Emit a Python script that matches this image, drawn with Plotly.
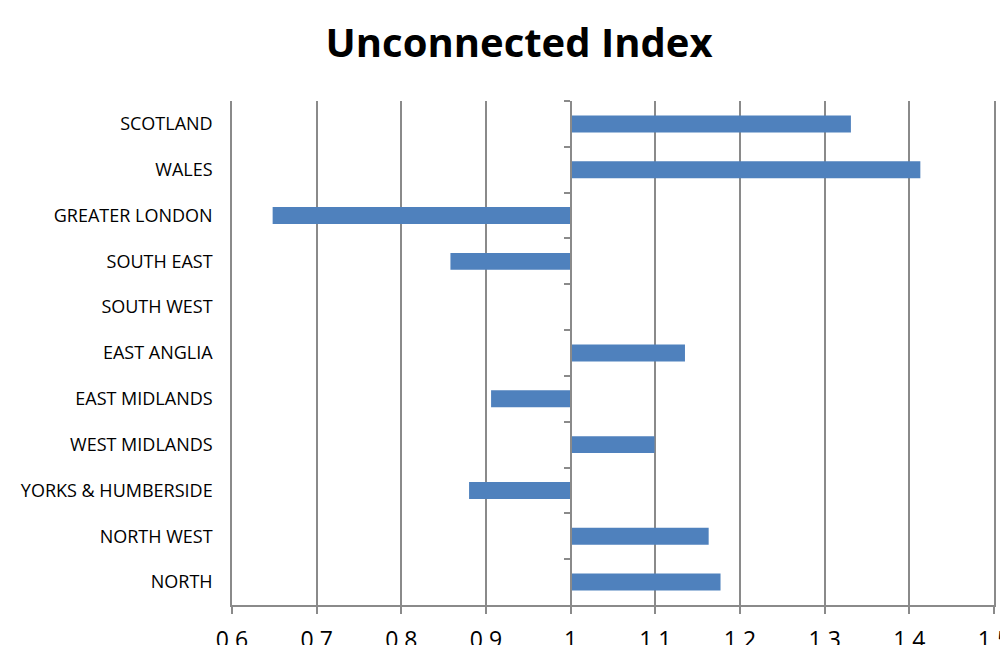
import plotly.graph_objects as go

categories = ["SCOTLAND", "WALES", "GREATER LONDON", "SOUTH EAST", "SOUTH WEST",
              "EAST ANGLIA", "EAST MIDLANDS", "WEST MIDLANDS", "YORKS & HUMBERSIDE",
              "NORTH WEST", "NORTH"]
index_values = [1.331, 1.413, 0.648, 0.858, 1.0, 1.135, 0.906, 1.099, 0.880, 1.163, 1.177]
baseline = 1.0
x_ticks = [0.6, 0.7, 0.8, 0.9, 1.0, 1.1, 1.2, 1.3, 1.4, 1.5]
x_tick_labels = ["0.6", "0.7", "0.8", "0.9", "1", "1.1", "1.2", "1.3", "1.4", "1.5"]

grey = "#8a8a8a"
blue = "#4f81bd"

fig = go.Figure()
fig.add_trace(go.Bar(
    y=categories,
    x=[v - baseline for v in index_values],
    base=baseline,
    orientation="h",
    width=0.37,
    marker=dict(color=blue, line=dict(width=0)),
    yaxis="y",
    showlegend=False,
))
# invisible helper trace for the category axis drawn at x = 1
fig.add_trace(go.Scatter(
    y=categories,
    x=[baseline] * len(categories),
    mode="markers",
    marker=dict(opacity=0),
    yaxis="y2",
    hoverinfo="skip",
    showlegend=False,
))

x0, x1 = x_ticks[0], x_ticks[-1]
fig.update_layout(
    width=1008, height=645,
    margin=dict(l=224, r=22, t=93, b=48, autoexpand=False),
    paper_bgcolor="white", plot_bgcolor="white",
    title=dict(text="<b>Unconnected Index</b>", x=0.507, xanchor="center",
               y=0.946, yanchor="middle",
               font=dict(family="Open Sans", size=40, color="black")),
    xaxis=dict(range=[x0, x1], tickvals=x_ticks, ticktext=x_tick_labels,
               automargin=False,
               showgrid=True, gridcolor=grey, gridwidth=1.5,
               showline=True, linecolor=grey, linewidth=1.5,
               ticks="outside", ticklen=7, tickcolor=grey, tickwidth=1.5,
               ticklabelstandoff=7,
               tickfont=dict(family="Open Sans", size=23, color="black"),
               zeroline=False),
    yaxis=dict(type="category", categoryorder="array", categoryarray=categories,
               range=[len(categories) - 0.5, -0.5], automargin=False,
               showgrid=False, showline=True, mirror=True,
               linecolor=grey, linewidth=1.5, ticks="", zeroline=False,
               ticklabelstandoff=14,
               tickfont=dict(family="Open Sans", size=18, color="black")),
    yaxis2=dict(type="category", categoryorder="array", categoryarray=categories,
                range=[len(categories) - 0.5, -0.5], automargin=False,
                overlaying="y", anchor="free",
                position=(baseline - x0) / (x1 - x0),
                showgrid=False, showline=True, linecolor=grey, linewidth=1.5,
                ticks="outside", tickson="boundaries", ticklen=6,
                tickcolor=grey, tickwidth=1.5,
                showticklabels=False, zeroline=False),
    bargap=0.6,
)

fig.write_html("out.html")
